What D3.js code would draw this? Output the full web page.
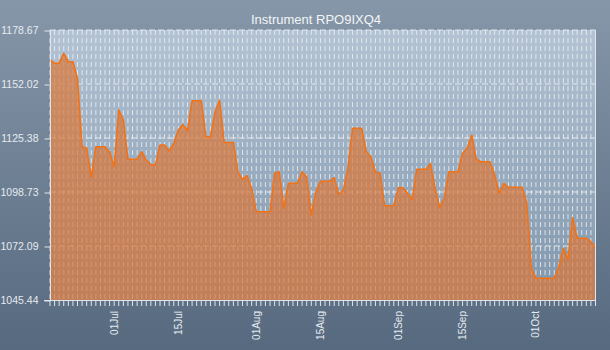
<!DOCTYPE html>
<html><head><meta charset="utf-8">
<script src="https://cdn.jsdelivr.net/npm/d3@7"></script>
<style>body{margin:0;background:#6b7d91}svg{display:block}</style>
</head><body>
<svg id="c" width="610" height="350"></svg>
<script>
const title = "Instrument RPO9IXQ4";
const startDate = "2023-06-17";
const values = [
 1164.21,1162.24,1162.24,1167.17,1163.03,1163.03,1154.49,1121.08,1120.29,1105.99,
 1121.08,1121.08,1121.08,1118.62,1111.22,1139.19,1134.26,1114.87,1114.87,1114.87,
 1118.62,1114.52,1112.30,1112.05,1121.92,1121.92,1118.96,1122.66,1129.32,1132.04,
 1128.98,1143.78,1143.78,1143.78,1126.02,1126.02,1138.21,1143.98,1123.16,1123.16,
 1123.16,1108.60,1105.00,1106.87,1100.21,1089.01,1089.01,1089.01,1089.01,1107.96,
 1108.75,1090.69,1103.03,1103.03,1103.03,1108.75,1106.28,1087.38,1098.88,1104.01,
 1104.01,1104.01,1105.79,1097.60,1099.72,1110.43,1130.16,1130.16,1130.16,1118.62,
 1116.15,1108.75,1107.96,1091.97,1091.97,1091.97,1100.85,1100.85,1098.09,1095.13,
 1109.93,1109.93,1109.93,1112.79,1100.56,1090.98,1095.62,1108.75,1108.75,1108.75,
 1117.83,1120.29,1126.86,1114.87,1113.68,1113.68,1113.68,1107.12,1098.09,1103.03,
 1101.05,1101.05,1101.05,1101.05,1093.30,1061.08,1056.15,1056.15,1056.15,1056.15,
 1056.15,1061.87,1070.95,1065.52,1086.05,1075.89,1075.89,1075.89,1074.21,1070.95
];
const yTicks = [1045.44, 1072.09, 1098.73, 1125.38, 1152.02, 1178.67];
const xTickLabels = ["2023-07-01","2023-07-15","2023-08-01","2023-08-15","2023-09-01","2023-09-15","2023-10-01"];

const parse = d3.timeParse("%Y-%m-%d");
const t0 = parse(startDate);
const data = values.map((v, i) => ({date: d3.timeDay.offset(t0, i), value: v}));

const W = 610, H = 350;
const m = {left: 50, right: 14.5, top: 30, bottom: 50};
const svg = d3.select("#c");
const defs = svg.append("defs");
const bg = defs.append("linearGradient").attr("id","bg").attr("x1",0).attr("y1",0).attr("x2",0).attr("y2",1);
bg.append("stop").attr("offset","0%").attr("stop-color","#8797aa");
bg.append("stop").attr("offset","100%").attr("stop-color","#56697e");
const pg = defs.append("linearGradient").attr("id","pg").attr("x1",0).attr("y1",0).attr("x2",0).attr("y2",1);
pg.append("stop").attr("offset","0%").attr("stop-color","#b3c3d3");
pg.append("stop").attr("offset","100%").attr("stop-color","#8196ac");

svg.append("rect").attr("width",W).attr("height",H).attr("fill","url(#bg)");

const x = d3.scaleTime().domain(d3.extent(data, d => d.date)).range([m.left, W - m.right]);
const y = d3.scaleLinear().domain([yTicks[0], yTicks[yTicks.length-1]]).range([H - m.bottom, m.top]);

svg.append("rect").attr("x", m.left).attr("y", m.top)
  .attr("width", x.range()[1]-m.left).attr("height", y.range()[0]-m.top).attr("fill","url(#pg)");

// vertical dashed gridlines (one per data point)
svg.append("g").selectAll("line").data(data).join("line")
  .attr("x1", d => x(d.date)).attr("x2", d => x(d.date))
  .attr("y1", y.range()[1]).attr("y2", y.range()[0])
  .attr("stroke","#eef2f6").attr("stroke-opacity",0.8).attr("stroke-dasharray","5,3");
// horizontal dashed gridlines
svg.append("g").selectAll("line").data(yTicks.slice(1)).join("line")
  .attr("x1", m.left).attr("x2", x.range()[1])
  .attr("y1", d => y(d)).attr("y2", d => y(d))
  .attr("stroke","#eef2f6").attr("stroke-opacity",0.85).attr("stroke-dasharray","6,3");

const area = d3.area().x(d => x(d.date)).y0(y.range()[0]).y1(d => y(d.value));
const line = d3.line().x(d => x(d.date)).y(d => y(d.value));
svg.append("path").datum(data).attr("d", area).attr("fill","#d9773a").attr("fill-opacity",0.72);
svg.append("path").datum(data).attr("d", line).attr("fill","none").attr("stroke","#f27216").attr("stroke-width",1.6).attr("stroke-linejoin","round");

// frame
const axc = "#dfe5eb";
svg.append("line").attr("x1", m.left+0.5).attr("x2", m.left+0.5).attr("y1", m.top).attr("y2", y.range()[0]).attr("stroke", axc);
svg.append("line").attr("x1", x.range()[1]).attr("x2", x.range()[1]).attr("y1", m.top).attr("y2", y.range()[0]).attr("stroke", axc);
svg.append("line").attr("x1", m.left-6).attr("x2", x.range()[1]).attr("y1", y.range()[0]+0.5).attr("y2", y.range()[0]+0.5).attr("stroke", axc);

// y axis
const yg = svg.append("g").attr("transform", `translate(${m.left+0.5},0.5)`)
  .call(d3.axisLeft(y).tickValues(yTicks).tickFormat(d => d.toFixed(2)).tickSize(6).tickPadding(6));
yg.select(".domain").remove();
yg.selectAll("line").attr("stroke", axc);
yg.selectAll("text").attr("fill","#e6ebf0").style("font-family","Liberation Sans, Arial, sans-serif").style("font-size","10.5px");

// x minor ticks
svg.append("g").selectAll("line").data(data).join("line")
  .attr("x1", d => x(d.date)).attr("x2", d => x(d.date))
  .attr("y1", y.range()[0]).attr("y2", y.range()[0]+6).attr("stroke", axc);

// x labels
const fmt = d3.timeFormat("%d%b");
svg.append("g").selectAll("text").data(xTickLabels.map(parse)).join("text")
  .attr("transform", d => `translate(${x(d)},311) rotate(-90)`)
  .attr("text-anchor","end").attr("dy","0.35em")
  .attr("fill","#e6ebf0").style("font-family","Liberation Sans, Arial, sans-serif").style("font-size","10px")
  .text(d => fmt(d));

svg.append("text").attr("x", 316).attr("y", 24).attr("text-anchor","middle")
  .attr("fill","#f3f5f7").style("font-family","Liberation Sans, Arial, sans-serif").style("font-size","13px")
  .text(title);
</script>
</body></html>
